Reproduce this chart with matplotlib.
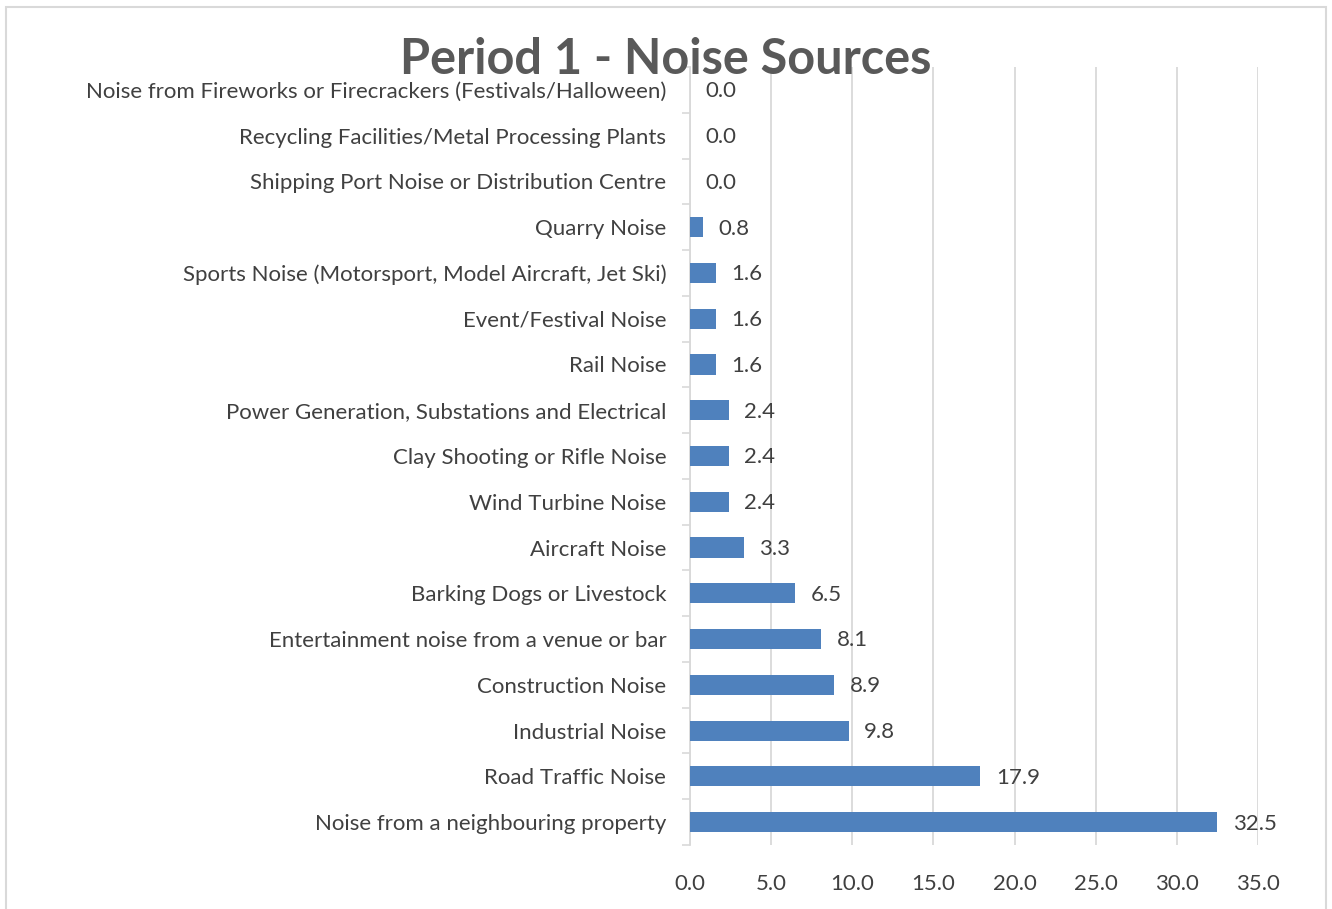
import numpy as np
import matplotlib
matplotlib.use('Agg')
import matplotlib.pyplot as plt
from matplotlib.patches import Rectangle

categories = [
    'Noise from a neighbouring property',
    'Road Traffic Noise',
    'Industrial Noise',
    'Construction Noise',
    'Entertainment noise from a venue or bar',
    'Barking Dogs or Livestock',
    'Aircraft Noise',
    'Wind Turbine Noise',
    'Clay Shooting or Rifle Noise',
    'Power Generation, Substations and Electrical',
    'Rail Noise',
    'Event/Festival Noise',
    'Sports Noise (Motorsport, Model Aircraft, Jet Ski)',
    'Quarry Noise',
    'Shipping Port Noise or Distribution Centre',
    'Recycling Facilities/Metal Processing Plants',
    'Noise from Fireworks or Firecrackers (Festivals/Halloween)',
]
values = [32.5, 17.9, 9.8, 8.9, 8.1, 6.5, 3.3, 2.4, 2.4, 2.4, 1.6, 1.6, 1.6, 0.8, 0.0, 0.0, 0.0]
x_ticks = [0, 5, 10, 15, 20, 25, 30, 35]
title = 'Period 1 - Noise Sources'

plt.rcParams['font.family'] = ['Lato', 'DejaVu Sans']
txt = '#404040'
grid_c = '#D9D9D9'
fs = 16

fig = plt.figure(figsize=(13.32, 9.09), dpi=100)
ax = fig.add_axes([0.518, 0.0704, 0.4264, 0.8559])

y = np.arange(len(categories))
ax.barh(y, values, height=0.44, color='#4F81BD', linewidth=0, zorder=3)

for yi, v in zip(y, values):
    ax.annotate('%.1f' % v, (v, yi), xytext=(11, -1), textcoords='offset points',
                ha='left', va='center', fontsize=fs, color=txt, zorder=4)

ax.set_xlim(0, 35)
ax.set_ylim(-0.5, len(categories) - 0.5)
ax.set_xticks(x_ticks)
ax.set_xticklabels(['%.1f' % t for t in x_ticks])
ax.set_yticks(y)
ax.set_yticklabels(categories)
ax.set_yticks(np.arange(-0.5, len(categories)), minor=True)

ax.tick_params(axis='x', length=0, pad=21, labelsize=fs, labelcolor=txt)
ax.tick_params(axis='y', which='major', length=0, pad=17, labelsize=fs, labelcolor=txt)
ax.tick_params(axis='y', which='minor', length=6, width=1.2, color=grid_c, direction='out')

ax.grid(axis='x', color=grid_c, linewidth=1.3, zorder=0)
for s in ['top', 'right', 'bottom']:
    ax.spines[s].set_visible(False)
ax.spines['left'].set_color(grid_c)
ax.spines['left'].set_linewidth(1.3)

fig.text(0.5, 0.934, title, ha='center', va='center', fontsize=35, fontweight='bold', color='#595959')

# chart border
fig.add_artist(Rectangle((6 / 1332, -0.01), 1320 / 1332, 1 - 7 / 909 + 0.01,
                         transform=fig.transFigure, fill=False, edgecolor=grid_c, linewidth=1.5))

fig.savefig('out.png', dpi=100, facecolor='white')
